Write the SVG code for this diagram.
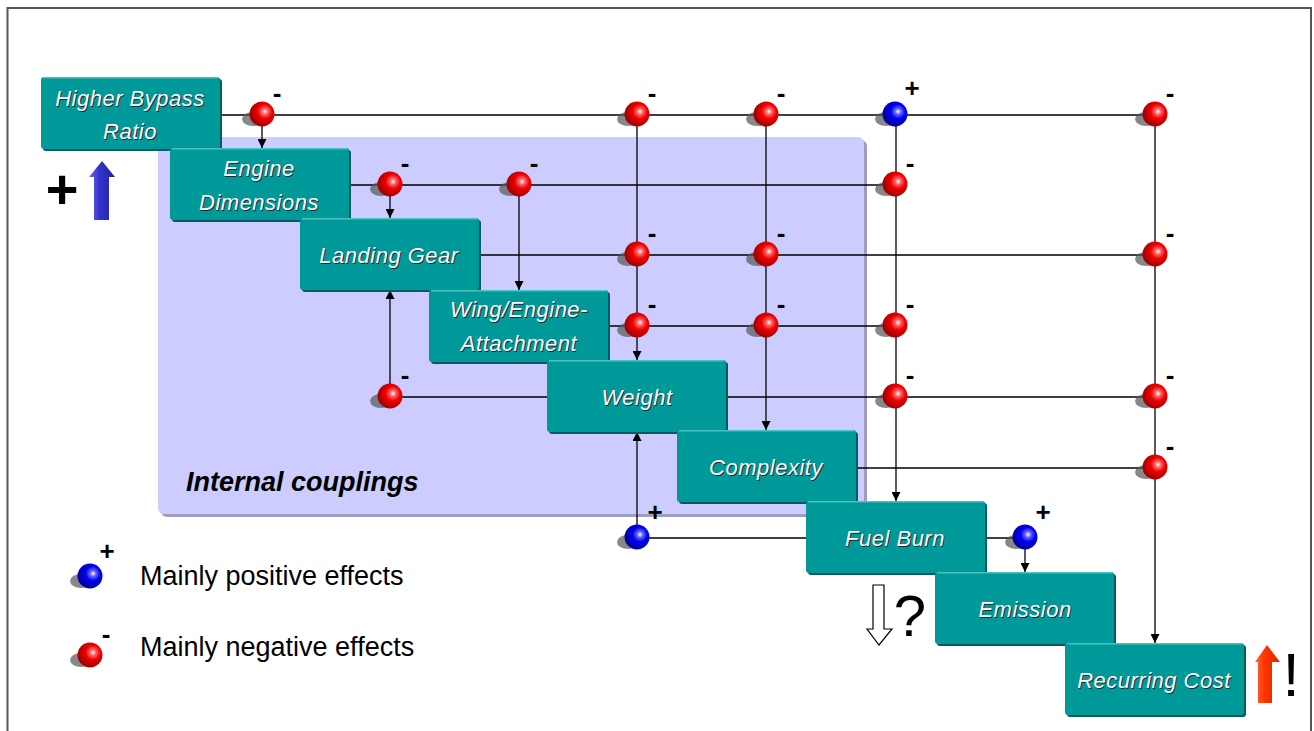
<svg xmlns="http://www.w3.org/2000/svg" width="1314" height="731" viewBox="0 0 1314 731">
<defs>
  <style>
    .lbl{font-family:"Liberation Sans",Arial,sans-serif;font-style:italic;font-size:22px;letter-spacing:0.5px;fill:#ffffff;text-anchor:middle}
    .sh{fill:#1c2b2b}
    .box{fill:#009999}
    .boxsh{fill:#005c5c}
    .boxhi{stroke:#4fc0c0;stroke-width:1.5}
    .ln{stroke:#000;stroke-width:1.3;fill:none}
    .arr{marker-end:url(#ah)}
    .sign{font-family:"Liberation Sans",Arial,sans-serif;font-weight:bold;font-size:26px;fill:#000;text-anchor:middle}
    .leg{font-family:"Liberation Sans",Arial,sans-serif;font-size:27px;fill:#000}
  </style>
  <marker id="ah" viewBox="0 0 10 10" refX="10" refY="5" markerWidth="10" markerHeight="9" markerUnits="userSpaceOnUse" orient="auto">
    <path d="M0,0 L10,5 L0,10 z" fill="#000"/>
  </marker>
  <radialGradient id="gr" cx="0.62" cy="0.4" r="0.65">
    <stop offset="0" stop-color="#ffffff"/>
    <stop offset="0.18" stop-color="#ff6666"/>
    <stop offset="0.45" stop-color="#ee0000"/>
    <stop offset="1" stop-color="#990000"/>
  </radialGradient>
  <radialGradient id="gb" cx="0.62" cy="0.4" r="0.65">
    <stop offset="0" stop-color="#ffffff"/>
    <stop offset="0.18" stop-color="#6666ff"/>
    <stop offset="0.45" stop-color="#0000ee"/>
    <stop offset="1" stop-color="#000099"/>
  </radialGradient>
  <linearGradient id="gba" x1="0" y1="0" x2="1" y2="0">
    <stop offset="0" stop-color="#6a6aee"/>
    <stop offset="0.4" stop-color="#3333cc"/>
    <stop offset="1" stop-color="#22229a"/>
  </linearGradient>
  <linearGradient id="gra" x1="0" y1="0" x2="1" y2="0">
    <stop offset="0" stop-color="#ff6633"/>
    <stop offset="0.4" stop-color="#ff3300"/>
    <stop offset="1" stop-color="#d42a00"/>
  </linearGradient>
  <g id="red">
    <ellipse cx="-9" cy="5" rx="11" ry="7" fill="#555" opacity="0.7"/>
    <circle cx="0" cy="0" r="12.5" fill="url(#gr)"/>
  </g>
  <g id="blue">
    <ellipse cx="-9" cy="5" rx="11" ry="7" fill="#555" opacity="0.7"/>
    <circle cx="0" cy="0" r="12.5" fill="url(#gb)"/>
  </g>
</defs>

<rect x="0" y="0" width="1314" height="731" fill="#ffffff"/>
<path d="M7.5,731 L7.5,8 L1311,8 L1311,731" fill="none" stroke="#555" stroke-width="2"/>

<g id="internal-couplings">
  <rect x="161" y="140" width="706" height="377" rx="6" fill="#9d9dc4"/>
  <rect x="158" y="137" width="706" height="377" rx="6" fill="#ccccff"/>
  <text x="186" y="491" font-family="Liberation Sans, Arial, sans-serif" font-weight="bold" font-style="italic" font-size="27" fill="#000">Internal couplings</text>
</g>

<g id="connectors">
  <line class="ln" x1="219" y1="115" x2="1155" y2="115"/>
  <line class="ln" x1="348" y1="185" x2="895" y2="185"/>
  <line class="ln" x1="478" y1="255" x2="1155" y2="255"/>
  <line class="ln" x1="608" y1="326" x2="895" y2="326"/>
  <line class="ln" x1="390" y1="397" x2="547" y2="397"/>
  <line class="ln" x1="726" y1="397" x2="1155" y2="397"/>
  <line class="ln" x1="855" y1="468" x2="1155" y2="468"/>
  <line class="ln" x1="637" y1="538" x2="806" y2="538"/>
  <line class="ln" x1="985" y1="538" x2="1025" y2="538"/>
  <line class="ln arr" x1="262" y1="115" x2="262" y2="148"/>
  <line class="ln arr" x1="390" y1="185" x2="390" y2="218"/>
  <line class="ln arr" x1="519" y1="185" x2="519" y2="290"/>
  <line class="ln arr" x1="637" y1="115" x2="637" y2="360"/>
  <line class="ln arr" x1="766" y1="115" x2="766" y2="430"/>
  <line class="ln arr" x1="896" y1="115" x2="896" y2="501"/>
  <line class="ln arr" x1="1155" y1="115" x2="1155" y2="643"/>
  <line class="ln arr" x1="390" y1="397" x2="390" y2="290"/>
  <line class="ln arr" x1="637" y1="538" x2="637" y2="432"/>
  <line class="ln arr" x1="1025" y1="538" x2="1025" y2="572"/>
</g>

<g id="junctions">
  <use href="#red" x="262" y="114"/><text class="sign" x="277" y="102">-</text>
  <use href="#red" x="637" y="114"/><text class="sign" x="652" y="102">-</text>
  <use href="#red" x="766" y="114"/><text class="sign" x="781" y="102">-</text>
  <use href="#blue" x="895" y="114"/><text class="sign" x="912" y="97">+</text>
  <use href="#red" x="1155" y="114"/><text class="sign" x="1170" y="102">-</text>

  <use href="#red" x="390" y="184"/><text class="sign" x="405" y="172">-</text>
  <use href="#red" x="519" y="184"/><text class="sign" x="534" y="172">-</text>
  <use href="#red" x="895" y="184"/><text class="sign" x="910" y="172">-</text>

  <use href="#red" x="637" y="254"/><text class="sign" x="652" y="242">-</text>
  <use href="#red" x="766" y="254"/><text class="sign" x="781" y="242">-</text>
  <use href="#red" x="1155" y="254"/><text class="sign" x="1170" y="242">-</text>

  <use href="#red" x="637" y="325"/><text class="sign" x="652" y="313">-</text>
  <use href="#red" x="766" y="325"/><text class="sign" x="781" y="313">-</text>
  <use href="#red" x="895" y="325"/><text class="sign" x="910" y="313">-</text>

  <use href="#red" x="390" y="396"/><text class="sign" x="405" y="384">-</text>
  <use href="#red" x="895" y="396"/><text class="sign" x="910" y="384">-</text>
  <use href="#red" x="1155" y="396"/><text class="sign" x="1170" y="384">-</text>

  <use href="#red" x="1155" y="467"/><text class="sign" x="1170" y="455">-</text>

  <use href="#blue" x="637" y="537"/><text class="sign" x="655" y="521">+</text>
  <use href="#blue" x="1025" y="537"/><text class="sign" x="1043" y="521">+</text>
</g>

<g id="node-higher-bypass-ratio">
  <rect class="boxsh" x="43" y="79" width="179" height="72" rx="3"/>
  <rect class="box" x="41" y="77" width="179" height="72" rx="3"/>
  <line class="boxhi" x1="43" y1="77.8" x2="218" y2="77.8"/>
  <text class="lbl sh" x="131" y="107">Higher Bypass</text><text class="lbl" x="130" y="106">Higher Bypass</text>
  <text class="lbl sh" x="131" y="140">Ratio</text><text class="lbl" x="130" y="139">Ratio</text>
</g>
<g id="node-engine-dimensions">
  <rect class="boxsh" x="172" y="150" width="179" height="72" rx="3"/>
  <rect class="box" x="170" y="148" width="179" height="72" rx="3"/>
  <line class="boxhi" x1="172" y1="148.8" x2="347" y2="148.8"/>
  <text class="lbl sh" x="260" y="177">Engine</text><text class="lbl" x="259" y="176">Engine</text>
  <text class="lbl sh" x="260" y="211">Dimensions</text><text class="lbl" x="259" y="210">Dimensions</text>
</g>
<g id="node-landing-gear">
  <rect class="boxsh" x="302" y="220" width="179" height="72" rx="3"/>
  <rect class="box" x="300" y="218" width="179" height="72" rx="3"/>
  <line class="boxhi" x1="302" y1="218.8" x2="477" y2="218.8"/>
  <text class="lbl sh" x="390" y="264">Landing Gear</text><text class="lbl" x="389" y="263">Landing Gear</text>
</g>
<g id="node-wing-engine-attachment">
  <rect class="boxsh" x="431" y="292" width="179" height="72" rx="3"/>
  <rect class="box" x="429" y="290" width="179" height="72" rx="3"/>
  <line class="boxhi" x1="431" y1="290.8" x2="606" y2="290.8"/>
  <text class="lbl sh" x="520" y="318">Wing/Engine-</text><text class="lbl" x="519" y="317">Wing/Engine-</text>
  <text class="lbl sh" x="520" y="352">Attachment</text><text class="lbl" x="519" y="351">Attachment</text>
</g>
<g id="node-weight">
  <rect class="boxsh" x="549" y="362" width="179" height="72" rx="3"/>
  <rect class="box" x="547" y="360" width="179" height="72" rx="3"/>
  <line class="boxhi" x1="549" y1="360.8" x2="724" y2="360.8"/>
  <text class="lbl sh" x="638" y="406">Weight</text><text class="lbl" x="637" y="405">Weight</text>
</g>
<g id="node-complexity">
  <rect class="boxsh" x="679" y="432" width="179" height="72" rx="3"/>
  <rect class="box" x="677" y="430" width="179" height="72" rx="3"/>
  <line class="boxhi" x1="679" y1="430.8" x2="854" y2="430.8"/>
  <text class="lbl sh" x="767" y="476">Complexity</text><text class="lbl" x="766" y="475">Complexity</text>
</g>
<g id="node-fuel-burn">
  <rect class="boxsh" x="808" y="503" width="179" height="72" rx="3"/>
  <rect class="box" x="806" y="501" width="179" height="72" rx="3"/>
  <line class="boxhi" x1="808" y1="501.8" x2="983" y2="501.8"/>
  <text class="lbl sh" x="896" y="547">Fuel Burn</text><text class="lbl" x="895" y="546">Fuel Burn</text>
</g>
<g id="node-emission">
  <rect class="boxsh" x="937" y="574" width="179" height="72" rx="3"/>
  <rect class="box" x="935" y="572" width="179" height="72" rx="3"/>
  <line class="boxhi" x1="937" y1="572.8" x2="1112" y2="572.8"/>
  <text class="lbl sh" x="1026" y="618">Emission</text><text class="lbl" x="1025" y="617">Emission</text>
</g>
<g id="node-recurring-cost">
  <rect class="boxsh" x="1067" y="645" width="179" height="72" rx="3"/>
  <rect class="box" x="1065" y="643" width="179" height="72" rx="3"/>
  <line class="boxhi" x1="1067" y1="643.8" x2="1242" y2="643.8"/>
  <text class="lbl sh" x="1155" y="689">Recurring Cost</text><text class="lbl" x="1154" y="688">Recurring Cost</text>
</g>

<g id="indicators">
  <text x="62" y="208" font-family="Liberation Sans, Arial, sans-serif" font-weight="bold" font-size="56" text-anchor="middle" fill="#000">+</text>
  <polygon points="102,161 115,177 109,177 109,220 94,220 94,177 89,177" fill="url(#gba)"/>
  <polygon points="873,585 884,585 884,629 892,629 879,645 867,629 873,629" fill="#fff" stroke="#000" stroke-width="1.2"/>
  <text x="910" y="636" font-family="Liberation Sans, Arial, sans-serif" font-size="58" text-anchor="middle" fill="#000">?</text>
  <polygon points="1267,645 1280,662 1272,662 1272,703 1258,703 1258,662 1255,662" fill="url(#gra)"/>
  <text x="1291" y="696" font-family="Liberation Sans, Arial, sans-serif" font-size="62" text-anchor="middle" fill="#000">!</text>
</g>

<g id="legend">
  <use href="#blue" x="90" y="576"/>
  <text class="sign" x="107" y="560">+</text>
  <text class="leg" x="140" y="585">Mainly positive effects</text>
  <use href="#red" x="90" y="655"/>
  <text class="sign" x="106" y="643">-</text>
  <text class="leg" x="140" y="656">Mainly negative effects</text>
</g>
</svg>
